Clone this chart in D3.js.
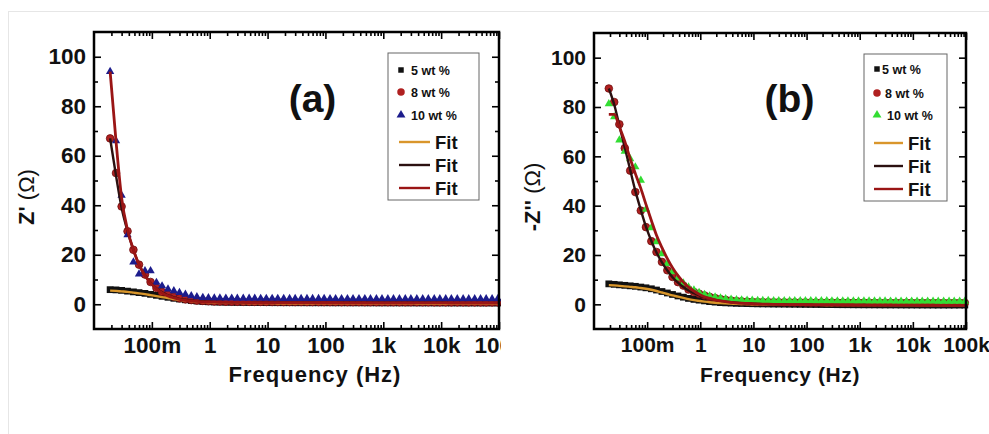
<!DOCTYPE html>
<html>
<head>
<meta charset="utf-8">
<script src="https://cdn.jsdelivr.net/npm/d3@7"></script>
<style>
body{margin:0;background:#fff;}
text{font-family:"Liberation Sans",Arial,sans-serif;font-weight:bold;fill:#111;}
</style>
</head>
<body>
<script>
// measurement frequencies (Hz), same grid for every sample
var freq = [0.019,0.024,0.03,0.038,0.048,0.06,0.076,0.095,0.12,0.15,
  0.19,0.24,0.3,0.38,0.48,0.6,0.76,0.95,1.2,1.5,
  1.9,2.4,3,3.8,4.8,6,7.6,9.5,12,15,
  19,24,30,38,48,60,76,95,120,150,
  190,240,300,380,480,600,760,950,1200,1500,
  1900,2400,3000,3800,4800,6000,7600,9500,12000,15000,
  19000,24000,30000,38000,48000,60000,76000,95000];

var xTickVals = [0.1,1,10,100,1000,10000,100000];
var xTickLabels = ["100m","1","10","100","1k","10k","100k"];
var yTickVals = [0,20,40,60,80,100];
var sampleLabels = ["5 wt %","8 wt %","10 wt %"];

// (a) Z' measured
var zre5 = [5.9,5.8,5.6,5.3,5.0,4.7,4.4,4.0,3.6,3.2,
  2.8,2.4,2.1,1.8,1.5,1.3,1.1,1.0,0.9,0.85,
  0.8,0.78,0.75,0.72,0.7,0.68,0.66,0.65,0.64,0.63,
  0.62,0.62,0.61,0.61,0.6,0.6,0.6,0.59,0.59,0.58,
  0.58,0.58,0.57,0.57,0.56,0.56,0.56,0.55,0.55,0.55,
  0.54,0.54,0.54,0.53,0.53,0.53,0.52,0.52,0.52,0.51,
  0.51,0.51,0.5,0.5,0.5,0.5,0.5,0.5];
var zre8 = [67,53,39.5,29.5,22,16,12,9,6.6,5,
  3.8,3,2.4,2,1.7,1.5,1.35,1.25,1.15,1.1,
  1.05,1.02,1,0.98,0.96,0.95,0.94,0.93,0.92,0.91,
  0.9,0.9,0.89,0.89,0.88,0.88,0.87,0.87,0.86,0.86,
  0.85,0.85,0.84,0.84,0.83,0.83,0.82,0.82,0.81,0.81,
  0.8,0.8,0.8,0.79,0.79,0.79,0.78,0.78,0.78,0.77,
  0.77,0.77,0.76,0.76,0.76,0.75,0.75,0.75];
var zre10 = [94,66,44,28,17,12.2,13.5,13.5,8.8,7.4,
  6.1,5.4,4.7,4.0,3.4,3.0,2.7,2.6,2.5,2.5,
  2.45,2.45,2.4,2.4,2.4,2.4,2.35,2.35,2.35,2.35,
  2.3,2.3,2.3,2.3,2.3,2.3,2.3,2.3,2.25,2.25,
  2.25,2.25,2.25,2.25,2.25,2.2,2.2,2.2,2.2,2.2,
  2.2,2.2,2.2,2.2,2.2,2.2,2.2,2.2,2.2,2.2,
  2.2,2.2,2.2,2.2,2.2,2.2,2.2,2.2];
// (a) Z' fits
var zreFit5 = [5.5,5.4,5.2,5.0,4.7,4.4,4.1,3.7,3.3,2.9,
  2.5,2.1,1.8,1.5,1.25,1.05,0.9,0.8,0.72,0.66,
  0.62,0.58,0.55,0.52,0.5,0.48,0.46,0.45,0.44,0.43,
  0.42,0.42,0.41,0.41,0.4,0.4,0.4,0.39,0.39,0.38,
  0.38,0.38,0.37,0.37,0.36,0.36,0.36,0.35,0.35,0.35,
  0.34,0.34,0.34,0.33,0.33,0.33,0.32,0.32,0.32,0.31,
  0.31,0.31,0.3,0.3,0.3,0.3,0.3,0.3];
var zreFit8 = [67,52,39,29.5,22,16,11.8,8.7,6.4,4.8,
  3.6,2.8,2.2,1.8,1.5,1.3,1.15,1.05,0.95,0.9,
  0.85,0.82,0.8,0.78,0.76,0.75,0.74,0.73,0.72,0.71,
  0.7,0.7,0.69,0.69,0.68,0.68,0.67,0.67,0.66,0.66,
  0.65,0.65,0.64,0.64,0.63,0.63,0.62,0.62,0.61,0.61,
  0.6,0.6,0.6,0.59,0.59,0.59,0.58,0.58,0.58,0.57,
  0.57,0.57,0.56,0.56,0.56,0.55,0.55,0.55];
var zreFit10 = [94,66,43,30,22,16,11.6,8.5,6.2,4.6,
  3.4,2.6,2.0,1.6,1.35,1.15,1.0,0.9,0.85,0.8,
  0.78,0.76,0.74,0.72,0.7,0.69,0.68,0.67,0.66,0.65,
  0.64,0.64,0.63,0.63,0.62,0.62,0.61,0.61,0.6,0.6,
  0.59,0.59,0.58,0.58,0.57,0.57,0.56,0.56,0.55,0.55,
  0.54,0.54,0.54,0.53,0.53,0.53,0.52,0.52,0.52,0.51,
  0.51,0.51,0.5,0.5,0.5,0.5,0.5,0.5];

// (b) -Z'' measured
var zim5 = [8.3,8.1,7.9,7.7,7.5,7.3,7.0,6.7,6.3,5.8,
  5.2,4.6,4.0,3.4,2.9,2.4,2.0,1.7,1.4,1.1,
  0.9,0.7,0.6,0.5,0.4,0.35,0.3,0.25,0.2,0.18,
  0.15,0.12,0.1,0.08,0.05,0.03,0,-0.02,-0.04,-0.06,
  -0.08,-0.1,-0.12,-0.14,-0.15,-0.16,-0.18,-0.19,-0.2,-0.21,
  -0.22,-0.23,-0.24,-0.25,-0.25,-0.26,-0.27,-0.27,-0.28,-0.28,
  -0.29,-0.29,-0.3,-0.3,-0.3,-0.3,-0.3,-0.3];
var zim8 = [87.5,82,73,63.3,54.2,45.5,38,31.3,25.6,21.2,
  17.2,13.8,11.1,9.0,7.6,6.0,5.0,4.3,3.6,3.0,
  2.5,2.1,1.8,1.55,1.35,1.2,1.1,1.0,0.95,0.9,
  0.88,0.86,0.84,0.82,0.8,0.79,0.78,0.77,0.76,0.75,
  0.74,0.73,0.72,0.71,0.7,0.7,0.69,0.68,0.68,0.67,
  0.66,0.66,0.65,0.65,0.64,0.64,0.63,0.63,0.62,0.62,
  0.61,0.61,0.6,0.6,0.6,0.6,0.6,0.6];
var zim10 = [81.3,76,66.6,62,59,55.7,50.3,38.5,31,25.3,
  20.5,16.5,13.2,10.6,8.6,7.0,5.8,4.8,4.0,3.4,
  2.9,2.5,2.2,2.0,1.85,1.75,1.65,1.6,1.55,1.5,
  1.5,1.48,1.47,1.46,1.45,1.44,1.43,1.42,1.41,1.4,
  1.39,1.38,1.37,1.36,1.35,1.34,1.33,1.32,1.31,1.3,
  1.3,1.29,1.28,1.27,1.26,1.25,1.25,1.24,1.23,1.22,
  1.22,1.21,1.2,1.2,1.2,1.2,1.2,1.2];
// (b) -Z'' fits
var zimFit5 = [7.8,7.7,7.5,7.3,7.1,6.9,6.6,6.3,5.9,5.4,
  4.8,4.2,3.6,3.1,2.6,2.1,1.7,1.4,1.1,0.85,
  0.65,0.5,0.4,0.3,0.2,0.15,0.1,0.05,0,-0.05,
  -0.08,-0.1,-0.12,-0.14,-0.16,-0.18,-0.2,-0.21,-0.22,-0.23,
  -0.24,-0.25,-0.26,-0.27,-0.28,-0.29,-0.3,-0.3,-0.31,-0.32,
  -0.32,-0.33,-0.34,-0.34,-0.35,-0.35,-0.36,-0.36,-0.37,-0.37,
  -0.38,-0.38,-0.39,-0.39,-0.4,-0.4,-0.4,-0.4];
var zimFit8 = [87.5,81,72.5,63.5,54.5,46,38.3,31.5,25.7,21,
  17,13.7,11,8.8,7,5.6,4.5,3.6,2.9,2.3,
  1.8,1.4,1.1,0.85,0.65,0.5,0.4,0.3,0.2,0.1,
  0.05,0,-0.04,-0.08,-0.1,-0.12,-0.14,-0.16,-0.18,-0.2,
  -0.22,-0.23,-0.24,-0.25,-0.26,-0.27,-0.28,-0.29,-0.3,-0.31,
  -0.32,-0.33,-0.33,-0.34,-0.35,-0.35,-0.36,-0.36,-0.37,-0.37,
  -0.38,-0.38,-0.39,-0.39,-0.4,-0.4,-0.4,-0.4];
var zimFit10 = [77,77,72,66,59,53,47,40.5,34,28,
  23,18.5,14.8,11.6,9,7,5.4,4.1,3.1,2.4,
  1.8,1.4,1.1,0.8,0.6,0.45,0.35,0.25,0.15,0.1,
  0.05,0,-0.04,-0.08,-0.1,-0.12,-0.14,-0.16,-0.18,-0.2,
  -0.22,-0.23,-0.24,-0.25,-0.26,-0.27,-0.28,-0.29,-0.3,-0.31,
  -0.32,-0.33,-0.33,-0.34,-0.35,-0.35,-0.36,-0.36,-0.37,-0.37,
  -0.38,-0.38,-0.39,-0.39,-0.4,-0.4,-0.4,-0.4];

var fitColors = ["#d9962b","#2b1010","#9a1515"];

var W = 989, H = 434;
var svg = d3.select("body").append("svg").attr("width", W).attr("height", H);

// faint scan border
svg.append("rect").attr("x", 8.5).attr("y", 11.5).attr("width", 1000).attr("height", 500)
  .attr("fill", "none").attr("stroke", "#e6e6e6");

svg.append("defs").append("clipPath").attr("id", "clipA")
  .append("rect").attr("x", 0).attr("y", 0).attr("width", 501).attr("height", H);

function drawPanel(p){
  var g = svg.append("g");
  if (p.clip) g.attr("clip-path", "url(#" + p.clip + ")");

  var x = d3.scaleLog().domain([0.01, 100000]).range([p.left, p.right]);
  var y = d3.scaleLinear().domain([-10, 110]).range([p.bottom, p.top]);

  var minorX = x.ticks().filter(function(d){ return xTickVals.indexOf(d) < 0 && d > 0.01 && d < 100000; });
  var minorY = d3.range(-10, 111, 10).filter(function(d){ return d % 20 != 0 && d > -10 && d < 110; });

  function styleAxis(sel){
    sel.select(".domain").remove();
    sel.selectAll("line").attr("stroke", "#000").attr("stroke-width", 1.6);
    sel.selectAll("text").attr("font-size", p.tickFont).attr("font-family", null).attr("fill", "#111");
  }

  // bottom + top
  g.append("g").attr("transform", "translate(0," + p.bottom + ")")
    .call(d3.axisBottom(x).tickValues(xTickVals).tickFormat(function(d, i){ return xTickLabels[i]; })
      .tickSizeInner(-7).tickSizeOuter(0).tickPadding(8)).call(styleAxis);
  g.append("g").attr("transform", "translate(0," + p.bottom + ")")
    .call(d3.axisBottom(x).tickValues(minorX).tickFormat("").tickSizeInner(-4).tickSizeOuter(0)).call(styleAxis);
  g.append("g").attr("transform", "translate(0," + p.top + ")")
    .call(d3.axisTop(x).tickValues(xTickVals).tickFormat("").tickSizeInner(-7).tickSizeOuter(0)).call(styleAxis);
  g.append("g").attr("transform", "translate(0," + p.top + ")")
    .call(d3.axisTop(x).tickValues(minorX).tickFormat("").tickSizeInner(-4).tickSizeOuter(0)).call(styleAxis);

  // left + right
  g.append("g").attr("transform", "translate(" + p.left + ",0)")
    .call(d3.axisLeft(y).tickValues(yTickVals).tickSizeInner(-7).tickSizeOuter(0).tickPadding(8)).call(styleAxis);
  g.append("g").attr("transform", "translate(" + p.left + ",0)")
    .call(d3.axisLeft(y).tickValues(minorY).tickFormat("").tickSizeInner(-4).tickSizeOuter(0)).call(styleAxis);
  g.append("g").attr("transform", "translate(" + p.right + ",0)")
    .call(d3.axisRight(y).tickValues(yTickVals).tickFormat("").tickSizeInner(-7).tickSizeOuter(0)).call(styleAxis);
  g.append("g").attr("transform", "translate(" + p.right + ",0)")
    .call(d3.axisRight(y).tickValues(minorY).tickFormat("").tickSizeInner(-4).tickSizeOuter(0)).call(styleAxis);

  // data
  var pts = function(vals){ return vals.map(function(v, i){ return [freq[i], v]; }); };
  var plot = g.append("g");

  plot.selectAll(".sq").data(pts(p.s5)).join("path")
    .attr("transform", function(d){ return "translate(" + x(d[0]) + "," + y(d[1]) + ")"; })
    .attr("d", d3.symbol().type(d3.symbolSquare).size(46)()).attr("fill", "#111");
  plot.selectAll(".ci").data(pts(p.s8)).join("path")
    .attr("transform", function(d){ return "translate(" + x(d[0]) + "," + y(d[1]) + ")"; })
    .attr("d", d3.symbol().type(d3.symbolCircle).size(46)()).attr("fill", "#b02020").attr("stroke", "#6e0c0c").attr("stroke-width", 0.8);
  plot.selectAll(".tr").data(pts(p.s10)).join("path")
    .attr("transform", function(d){ return "translate(" + x(d[0]) + "," + y(d[1]) + ")"; })
    .attr("d", d3.symbol().type(d3.symbolTriangle).size(30)()).attr("fill", p.triColor);

  var line = d3.line().x(function(d){ return x(d[0]); }).y(function(d){ return y(d[1]); }).curve(d3.curveMonotoneX);
  [p.f5, p.f8, p.f10].forEach(function(vals, k){
    plot.append("path").datum(pts(vals)).attr("d", line)
      .attr("fill", "none").attr("stroke", fitColors[k]).attr("stroke-width", k == 2 ? 2.8 : 2.4);
  });

  // frame
  g.append("rect").attr("x", p.left).attr("y", p.top)
    .attr("width", p.right - p.left).attr("height", p.bottom - p.top)
    .attr("fill", "none").attr("stroke", "#000").attr("stroke-width", 2.5);

  // titles
  g.append("text").attr("x", (p.left + p.right) / 2 + p.xTitleShift).attr("y", 382)
    .attr("text-anchor", "middle").attr("font-size", p.titleFont).attr("letter-spacing", p.titleSpacing)
    .text("Frequency (Hz)");
  var yt = g.append("text").attr("transform", "translate(" + p.yTitleX + ",197) rotate(-90)")
    .attr("text-anchor", "middle").attr("font-size", 22);
  yt.append("tspan").text(p.yTitle);
  yt.append("tspan").attr("font-weight", "normal").text(" (\u03A9)");

  g.append("text").attr("x", p.tagX).attr("y", 112).attr("text-anchor", "middle")
    .attr("font-size", 39).text(p.tag);

  // legend
  var L = p.legend;
  g.append("rect").attr("x", L.x).attr("y", L.y).attr("width", L.w).attr("height", L.h)
    .attr("fill", "#fff").attr("stroke", "#666").attr("stroke-width", 1);
  var types = [d3.symbolSquare, d3.symbolCircle, d3.symbolTriangle];
  var fills = ["#111", "#b02020", p.triColor];
  var sizes = [30, 44, 34];
  sampleLabels.forEach(function(t, k){
    g.append("path").attr("transform", "translate(" + L.symX + "," + L.rows[k] + ")")
      .attr("d", d3.symbol().type(types[k]).size(sizes[k])()).attr("fill", fills[k]);
    g.append("text").attr("x", L.textX[k]).attr("y", L.rows[k] + 4.5)
      .attr("font-size", 12.5).text(t);
  });
  fitColors.forEach(function(c, k){
    g.append("line").attr("x1", L.lx1).attr("x2", L.lx2).attr("y1", L.fits[k]).attr("y2", L.fits[k])
      .attr("stroke", c).attr("stroke-width", 2.4);
    g.append("text").attr("x", L.lx2 + 5).attr("y", L.fits[k] + 6.5)
      .attr("font-size", 18.5).text("Fit");
  });
}

drawPanel({
  left: 94, right: 499, top: 32, bottom: 329, clip: "clipA",
  tickFont: 22.5, titleFont: 22, titleSpacing: 1, xTitleShift: 18.5,
  yTitle: "Z'", yTitleX: 34, tag: "(a)", tagX: 312.5, triColor: "#1c1c8c",
  s5: zre5, s8: zre8, s10: zre10, f5: zreFit5, f8: zreFit8, f10: zreFit10,
  legend: {x: 388, y: 53, w: 91, h: 147, symX: 401, textX: [411, 411, 411],
    rows: [70, 92, 115], fits: [142, 165, 188], lx1: 399, lx2: 430}
});

drawPanel({
  left: 594, right: 966, top: 33, bottom: 329,
  tickFont: 21, titleFont: 21, titleSpacing: 0.6, xTitleShift: 0,
  yTitle: "-Z''", yTitleX: 540, tag: "(b)", tagX: 789.5, triColor: "#33dd33",
  s5: zim5, s8: zim8, s10: zim10, f5: zimFit5, f8: zimFit8, f10: zimFit10,
  legend: {x: 864, y: 54, w: 83, h: 147, symX: 877, textX: [882, 885, 887],
    rows: [69, 93, 115], fits: [143, 166, 189], lx1: 874, lx2: 903}
});
</script>
</body>
</html>
